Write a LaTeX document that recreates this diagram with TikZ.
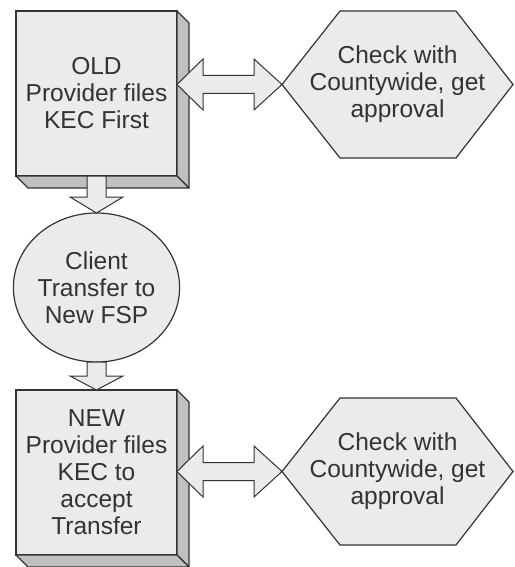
\documentclass[tikz,border=0pt]{standalone}
\usepackage{fontspec}
\setmainfont{Liberation Sans}
\usetikzlibrary{shapes.geometric,calc,backgrounds}

\definecolor{facegray}{HTML}{EBEBEB}
\definecolor{sidegray}{HTML}{C0C0C0}
\definecolor{linegray}{HTML}{333333}

\begin{document}
\begin{tikzpicture}[x=1pt,y=-1pt,
  every node/.style={font=\fontsize{24.5}{27}\selectfont, text=linegray, align=center, inner sep=0pt, outer sep=0pt},
  face/.style={draw=linegray, line width=1.2pt, fill=facegray},
  side/.style={draw=linegray, line width=1.2pt, fill=sidegray, line join=round},
  blk/.style={draw=linegray, line width=1pt, fill=facegray},
  hexa/.style={minimum width=231, minimum height=147}]
\useasboundingbox (0,0) rectangle (514,567);

% left column
\node[face, rectangle, minimum width=161, minimum height=165] (old) at (96.5,93.5) {OLD\\Provider files\\KEC First};
\node[face, ellipse, minimum width=162, minimum height=149] (tr) at (96.5,287.5) {Client\\Transfer to\\New FSP};
\node[face, rectangle, minimum width=161, minimum height=165] (new) at (96.5,472.5) {NEW\\Provider files\\KEC to\\accept\\Transfer};

% right column
\node[hexa] (chk1) at (397.5,84.5) {Check with\\Countywide, get\\approval};
\node[hexa] (chk2) at (397.5,471.5) {Check with\\Countywide, get\\approval};
\begin{scope}[on background layer]
\foreach \h in {chk1,chk2}
  \draw[face] (\h.west) -- ($(\h.north west)+(58,0)$) -- ($(\h.north east)+(-57,0)$) -- (\h.east)
    -- ($(\h.south east)+(-57,0)$) -- ($(\h.south west)+(58,0)$) -- cycle;
\end{scope}

% depth of the boxes
\foreach \b in {old,new} {
  \draw[side] (\b.north east) -- ++(12,12) -- ($(\b.south east)+(12,12)$) -- (\b.south east) -- cycle;
  \draw[side] (\b.south west) -- ++(12,12) -- ($(\b.south east)+(12,12)$) -- (\b.south east) -- cycle;
}

% down arrows
\draw[blk] ($(old.south)+(-9.5,0)$) -- ($(tr.north)+(-9.5,-16)$) -- ++(-17,0) -- (tr.north)
  -- ++(26.5,-16) -- ++(-17,0) -- ($(old.south)+(9.5,0)$) -- cycle;
\draw[blk] ($(tr.south)+(-9.5,0)$) -- ($(new.north)+(-9.5,-14)$) -- ++(-17,0) -- (new.north)
  -- ++(26.5,-14) -- ++(-17,0) -- ($(tr.south)+(9.5,0)$) -- cycle;

% double arrows
\coordinate (a1) at (old.east |- chk1.west);
\coordinate (a2) at (new.east |- chk2.west);
\draw[blk] (a1) -- ++(26,-25.5) -- ++(0,16.5) -- ($(chk1.west)+(-28,-9)$) -- ++(0,-16.5) -- (chk1.west)
  -- ++(-28,25.5) -- ++(0,-16.5) -- ($(a1)+(26,9)$) -- ++(0,16.5) -- cycle;
\draw[blk] (a2) -- ++(26,-25.5) -- ++(0,16.5) -- ($(chk2.west)+(-28,-9)$) -- ++(0,-16.5) -- (chk2.west)
  -- ++(-28,25.5) -- ++(0,-16.5) -- ($(a2)+(26,9)$) -- ++(0,16.5) -- cycle;
\end{tikzpicture}
\end{document}
